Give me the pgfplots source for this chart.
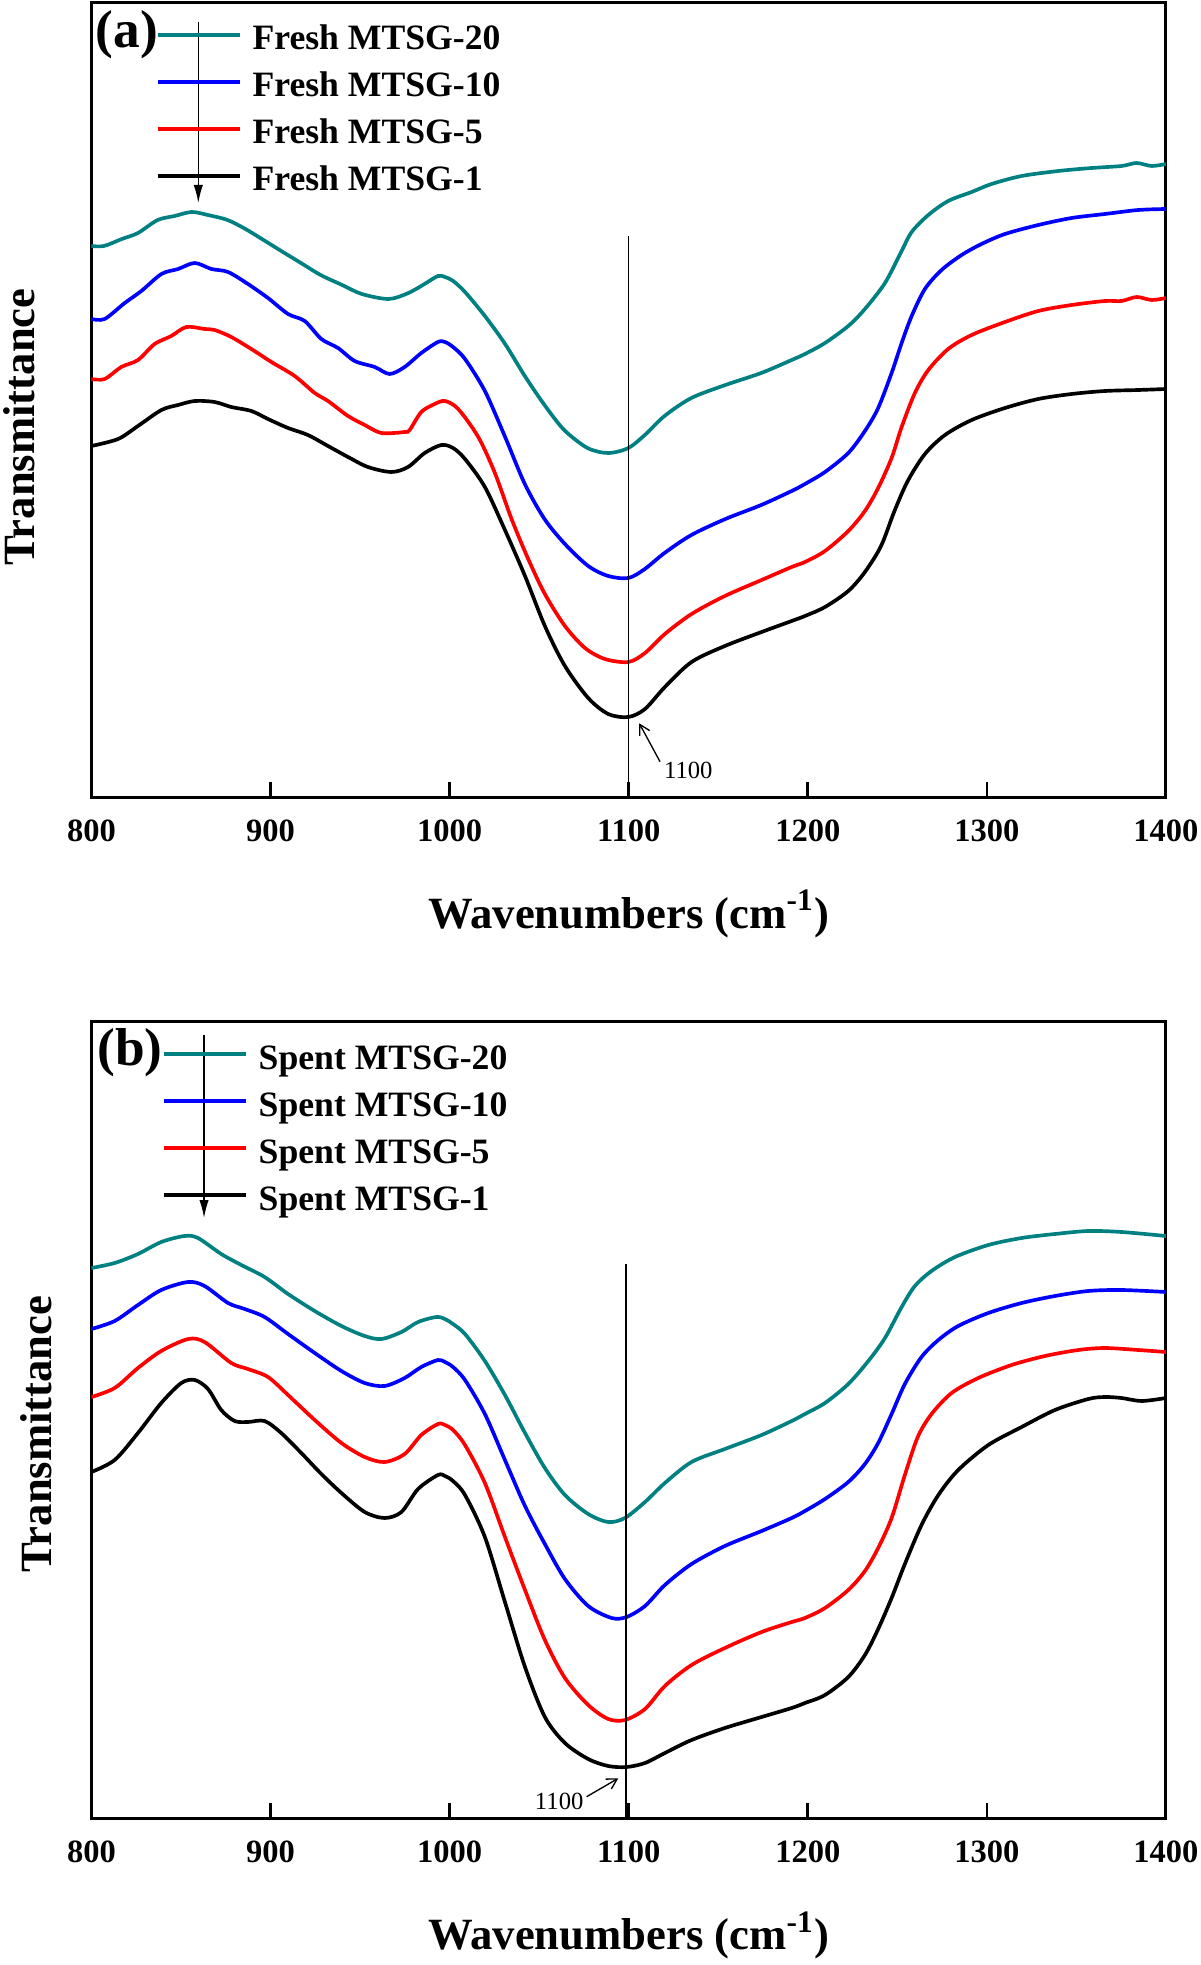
\documentclass[border=0pt]{standalone}
\usepackage{fontspec}
\setmainfont{Liberation Serif}
\usepackage{pgfplots}
\pgfplotsset{compat=1.18}
\usetikzlibrary{arrows.meta}
\definecolor{cteal}{RGB}{0,128,128}
\definecolor{cblue}{RGB}{0,0,255}
\definecolor{cred}{RGB}{255,0,0}

\pgfplotsset{ftir/.style={
  scale only axis, width=322.38pt,
  xmin=800, xmax=1400, ymin=0,
  xtick={800,900,1000,1100,1200,1300,1400}, ytick=\empty,
  xtick pos=left, tick align=inside,
  major tick length=4.5pt,
  scaled x ticks=false,
  axis line style={line width=0.9pt},
  tick style={line width=0.8pt, black},
  /pgf/number format/assume math mode=true,
  /pgf/number format/1000 sep={},
  xticklabel style={font=\fontsize{9.75}{10}\selectfont\bfseries, anchor=base, yshift=-13.2pt},
  xlabel={Wavenumbers (cm\textsuperscript{-1})},
  xlabel style={font=\fontsize{13.4}{15}\selectfont\bfseries, at={(axis description cs:0.5,-0.165)}, anchor=base},
  ylabel={Transmittance},
  every axis plot/.append style={line width=1.1pt},
  legend cell align=left,
  legend image code/.code={\draw[##1] (0pt,0pt) -- (24.7pt,0pt);},
}}

\begin{document}
\begin{tikzpicture}
\path[use as bounding box] (-27.42pt,-350.4pt) rectangle (332.58pt,239.1pt);

% ---------------- panel (a) ----------------
\begin{axis}[ftir,
  at={(0pt,0pt)}, anchor=south west,
  height=238.2pt, ymax=794,
  ylabel style={font=\fontsize{13.4}{15}\selectfont\bfseries, at={(axis description cs:-0.0675,0.466)}, anchor=center},
  legend style={at={(axis description cs:0.0600,0.9893)}, anchor=north west, draw=none, fill=none,
    inner sep=0pt, outer sep=0pt, row sep=0pt, column sep=3.2pt,
    font=\fontsize{10.7}{12}\selectfont\bfseries,
    nodes={inner sep=0pt, text height=11.55pt, text depth=2.55pt}},
]
\addplot[cteal, smooth] coordinates {
(800,551)(807,551)(817,558)(826,564)(837,577)(846.5,581)(856,585)(865,582)(876,577)(886,568)
(897,556)(906,546)(917,534)(928,522)(940,512)(951,503)(966,498)(977,504)(986,513)(993.5,521)
(997.4,520)(1002,516)(1008.6,505)(1019.7,481)(1031,453)(1042,421)(1053,392)(1064,367)(1077,349)
(1088.6,344)(1099.8,349)(1109,362)(1120,381)(1135,399)(1154,412)(1174,424)(1191,437)(1198.4,443)
(1209.6,454)(1222.6,471)(1231.9,488)(1243.1,514)(1252.4,546)(1258,565)(1267.3,582)(1278.4,596)
(1291.5,605)(1302.6,613)(1319.4,621)(1339.9,626)(1358.5,629)(1375.2,631)(1383.6,634)(1392,631)(1400,633)
};
\addlegendentry{Fresh MTSG-20}
\addplot[cblue, smooth] coordinates {
(800,478)(807.4,478)(818.6,494)(827.9,506)(839.1,523)(848.4,528)(857.7,534)(867,528)(876.3,525)
(887.4,513)(898.6,499)(909.8,483)(919.1,476)(928.4,458)(937.7,449)(947,436)(958.2,430)(966.5,423)
(974.9,430)(984.2,444)(993.5,455)(997.4,455)(1001.9,450)(1008.6,438)(1019.7,406)(1031,360)(1042,313)
(1053,278)(1064.4,253)(1077.4,231)(1088.6,221)(1099.8,219)(1109,228)(1120,244)(1135,262)(1154,278)
(1174,292)(1191,306)(1198.4,313)(1209.6,325)(1222.6,344)(1231.9,366)(1239.3,389)(1246.8,424)
(1252.4,454)(1258,481)(1265.4,508)(1274.7,527)(1285.9,542)(1297,553)(1310.1,563)(1328.7,572)
(1347.3,579)(1365.9,583)(1384.5,587)(1400,588)
};
\addlegendentry{Fresh MTSG-10}
\addplot[cred, smooth] coordinates {
(800,418)(807.4,418)(816.7,430)(826,437)(835.3,453)(844.6,461)(853,470)(863.2,468)(868.8,467)
(878.1,460)(889.3,448)(900.5,435)(913.5,421)(924.7,404)(932.1,396)(943.3,381)(952.6,372)(961.9,364)
(974.9,365)(977.7,367)(984.2,385)(991.7,393)(997.4,396)(1004.8,388)(1016,360)(1025.3,324)(1034.6,278)
(1043.9,238)(1053.2,203)(1064.4,171)(1075.6,149)(1086.7,138)(1099.8,135)(1109.1,144)(1120.2,163)
(1135.1,183)(1153.7,201)(1174.2,217)(1191,230)(1198.4,235)(1209.6,246)(1222.6,266)(1231.9,286)
(1239.3,309)(1246.8,339)(1252.4,370)(1259.8,404)(1267.3,427)(1278.4,448)(1291.5,462)(1310.1,475)
(1328.7,486)(1347.3,492)(1365.9,496)(1375.2,496)(1383.6,500)(1392,497)(1400,499)
};
\addlegendentry{Fresh MTSG-5}
\addplot[black, smooth] coordinates {
(800,351)(814.9,358)(826,371)(839.1,387)(848.4,392)(857.7,396)(868.8,395)(878.1,390)(889.3,386)
(898.6,378)(909.8,369)(920.9,362)(932.1,351)(943.3,340)(954.4,330)(967.5,325)(976.8,330)(986.1,344)
(995.4,352)(1001.9,349)(1008.6,338)(1019.7,310)(1030.9,267)(1042.1,221)(1053.2,171)(1064.4,131)
(1077.4,99)(1088.6,83)(1099.8,80)(1109.1,88)(1120.2,110)(1135.1,135)(1153.7,151)(1174.2,165)
(1191,176)(1198.4,181)(1209.6,190)(1222.6,206)(1231.9,225)(1240.9,251)(1248.4,286)(1255.8,316)
(1265.4,343)(1276.6,362)(1291.5,377)(1310.1,389)(1328.7,398)(1347.3,403)(1365.9,406)(1384.5,407)(1400,408)
};
\addlegendentry{Fresh MTSG-1}
\addplot[black, line width=0.45pt, forget plot] coordinates {(1100,0)(1100,561)};
\draw[line width=0.45pt, -{Latex[length=5.4pt,width=2.8pt]}] (axis cs:859.7,775) -- (axis cs:859.7,594);
\draw[line width=0.4pt, -{Straight Barb[length=3pt,width=3.4pt]}] (axis cs:1117.5,35.3) -- (axis cs:1105.9,73.7);
\node[font=\fontsize{7.4}{8}\selectfont, inner sep=0pt] at (axis cs:1133.3,27) {1100};
\node[anchor=north west, inner sep=0pt, font=\fontsize{16}{16}\selectfont\bfseries] at (rel axis cs:0.0034,0.9916) {(a)};
\end{axis}

% ---------------- panel (b) ----------------
\begin{axis}[ftir,
  at={(0pt,-306.3pt)}, anchor=south west,
  height=238.95pt, ymax=796.5,
  ylabel style={font=\fontsize{13.4}{15}\selectfont\bfseries, at={(axis description cs:-0.051,0.482)}, anchor=center},
  legend style={at={(axis description cs:0.0654,0.9883)}, anchor=north west, draw=none, fill=none,
    inner sep=0pt, outer sep=0pt, row sep=0pt, column sep=3.3pt,
    font=\fontsize{10.7}{12}\selectfont\bfseries,
    nodes={inner sep=0pt, text height=11.55pt, text depth=2.55pt}},
]
\addplot[cteal, smooth] coordinates {
(800,550)(813,555)(826,564)(839,576)(852,582)(859.5,580)(872.5,564)(883.7,553)(896.7,541)(909.8,524)
(924.7,507)(939.6,492)(952.6,482)(961.9,479)(973.1,486)(982.4,496)(992.6,501)(997.4,499)(1001.9,494)
(1008.6,484)(1019.7,457)(1030.9,423)(1042.1,385)(1053.2,350)(1064.4,323)(1077.4,304)(1088.6,296)
(1097.9,300)(1109.1,316)(1120.2,335)(1135.1,356)(1153.7,369)(1174.2,383)(1191,397)(1198.4,404)
(1209.6,415)(1222.6,434)(1233.8,457)(1243.1,480)(1252.4,511)(1259.8,532)(1269.1,547)(1282.2,561)
(1300.8,573)(1319.4,580)(1338,584)(1356.6,587)(1375.2,586)(1400,582)
};
\addlegendentry{Spent MTSG-20}
\addplot[cblue, smooth] coordinates {
(800,489)(813,497)(826,513)(839,528)(854,536)(863.2,532)(876.3,515)(885.6,509)(896.7,501)(909.8,484)
(924.7,465)(939.6,447)(952.6,435)(963.7,432)(974.9,440)(984.2,451)(993.5,458)(997.4,456)(1001.9,451)
(1008.6,438)(1019.7,404)(1030.9,358)(1042.1,312)(1053.2,274)(1064.4,239)(1077.4,212)(1090.5,200)
(1098.8,201)(1109.1,212)(1120.2,233)(1135.1,254)(1153.7,272)(1174.2,287)(1191,300)(1198.4,307)
(1209.6,319)(1222.6,336)(1231.9,354)(1239.3,375)(1246.8,404)(1254.2,434)(1263.5,461)(1272.9,478)
(1284,492)(1300.8,505)(1319.4,515)(1338,522)(1356.6,527)(1375.2,528)(1400,526)
};
\addlegendentry{Spent MTSG-10}
\addplot[cred, smooth] coordinates {
(800,421)(813,430)(826,450)(839,467)(854,479)(863.2,476)(878.1,455)(887.4,449)(898.6,441)(909.8,423)
(924.7,398)(939.6,375)(952.6,361)(963.7,356)(974.9,364)(984.2,383)(993.5,394)(997.4,393)(1001.9,388)
(1008.6,373)(1019.7,335)(1030.9,281)(1042.1,228)(1053.2,178)(1064.4,140)(1077.4,113)(1088.6,99)
(1097.9,98)(1109.1,109)(1120.2,132)(1135.1,153)(1153.7,170)(1174.2,186)(1191,196)(1198.4,200)
(1209.6,210)(1222.6,228)(1231.9,247)(1239.3,270)(1246.8,300)(1254.2,343)(1261.4,381)(1269.1,404)
(1280.3,425)(1295.2,440)(1313.8,453)(1332.4,462)(1351,468)(1365.9,470)(1384.5,468)(1400,466)
};
\addlegendentry{Spent MTSG-5}
\addplot[black, smooth] coordinates {
(800,346)(813,358)(826,385)(839,415)(850.2,435)(857.7,438)(865.1,429)(872.5,408)(880,397)(887.4,396)
(896.7,397)(906,385)(917.2,365)(928.4,344)(939.6,325)(952.6,306)(963.7,300)(973.1,306)(982.4,329)
(993.5,343)(997.4,342)(1001.9,337)(1008.6,323)(1019.7,281)(1030.9,216)(1042.1,151)(1053.2,101)
(1064.4,75)(1077.4,59)(1088.6,52)(1098.8,51)(1109.1,55)(1120.2,65)(1135.1,78)(1153.7,90)(1174.2,101)
(1191,110)(1198.4,115)(1209.6,123)(1222.6,141)(1231.9,163)(1239.3,189)(1246.8,220)(1254.2,254)
(1263.5,293)(1272.9,323)(1284,348)(1300.8,373)(1319.4,391)(1338,408)(1356.6,419)(1365.9,421)
(1375.2,420)(1386.4,417)(1400,420)
};
\addlegendentry{Spent MTSG-1}
\addplot[black, line width=0.45pt, forget plot] coordinates {(1098.5,0)(1098.5,554)};
\draw[line width=0.45pt, -{Latex[length=5.4pt,width=2.8pt]}] (axis cs:862.9,783) -- (axis cs:862.9,600);
\draw[line width=0.4pt, -{Straight Barb[length=3pt,width=3.4pt]}] (axis cs:1076.5,21.3) -- (axis cs:1094.2,39.7);
\node[font=\fontsize{7.4}{8}\selectfont, inner sep=0pt] at (axis cs:1061.2,16.3) {1100};
\node[anchor=north west, inner sep=0pt, font=\fontsize{16}{16}\selectfont\bfseries] at (rel axis cs:0.005,0.9918) {(b)};
\end{axis}
\end{tikzpicture}
\end{document}
